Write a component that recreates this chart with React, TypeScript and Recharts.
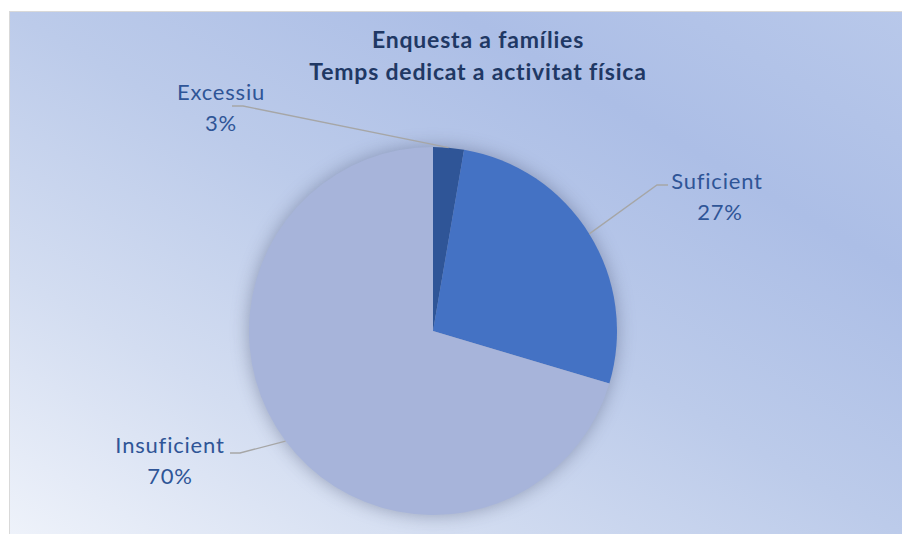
import React from 'react';
import { PieChart, Pie, Cell } from 'recharts';

const categories = ['Excessiu', 'Suficient', 'Insuficient'];
const shares = [2.7, 26.9, 70.4];
const percentLabels = ['3%', '27%', '70%'];
const colors = ['#2F5597', '#4472C4', '#A7B4DA'];

const titleLines = ['Enquesta a famílies', 'Temps dedicat a activitat física'];

const data = categories.map((name, i) => ({ name, value: shares[i], pct: percentLabels[i] }));

// label layout (positions of the text boxes and leader elbows)
const labelLayout = [
  { nameX: 221, nameY: 100, pctX: 221, pctY: 131, endX: 232, elbowX: 243, lineY: 106 },
  { nameX: 717, nameY: 189, pctX: 720, pctY: 220, endX: 668, elbowX: 657, lineY: 185 },
  { nameX: 170, nameY: 453, pctX: 170, pctY: 484, endX: 230, elbowX: 240, lineY: 453 },
];

const RAD = Math.PI / 180;
const FONT = 'Lato, "Open Sans", sans-serif';

const renderLabel = (props: any) => {
  const { cx, cy, midAngle, outerRadius, index } = props;
  const L = labelLayout[index];
  const ax = cx + outerRadius * Math.cos(-midAngle * RAD);
  const ay = cy + outerRadius * Math.sin(-midAngle * RAD);
  return (
    <g key={`lbl-${index}`}>
      <polyline
        points={`${ax},${ay} ${L.elbowX},${L.lineY} ${L.endX},${L.lineY}`}
        fill="none"
        stroke="#A6A6A6"
        strokeWidth={1.3}
      />
      <text x={L.nameX} y={L.nameY} textAnchor="middle" fill="#2F5597" fontSize={22} letterSpacing={0.8} fontFamily={FONT}>
        {data[index].name}
      </text>
      <text x={L.pctX} y={L.pctY} textAnchor="middle" fill="#2F5597" fontSize={22} letterSpacing={0.8} fontFamily={FONT}>
        {data[index].pct}
      </text>
    </g>
  );
};

export default function App() {
  return (
    <div style={{ position: 'absolute', left: 0, top: 0, width: 902, height: 534, background: '#FFFFFF', overflow: 'hidden' }}>
      <style>{`.recharts-pie > g:first-of-type { filter: drop-shadow(0px 0px 9px rgba(70,80,110,0.45)); }`}</style>
      <div
        style={{
          position: 'absolute',
          left: 9,
          top: 11,
          width: 893,
          height: 523,
          borderLeft: '1px solid #D9D9D9',
          borderTop: '1px solid #D9D9D9',
          background:
            'linear-gradient(to top right, #EEF2FA 0%, #D3DDF1 25%, #BCCBEA 50%, #ACBEE6 75%, #B8C8EA 100%)',
        }}
      />
      <div style={{ position: 'absolute', left: 0, top: 0 }}>
        <PieChart width={902} height={534} margin={{ top: 0, right: 0, bottom: 0, left: 0 }}>
          <text x={478} y={48} textAnchor="middle" fill="#203864" fontSize={23} letterSpacing={0.8} fontWeight={700} fontFamily={FONT}>
            {titleLines[0]}
          </text>
          <text x={478} y={80} textAnchor="middle" fill="#203864" fontSize={23} letterSpacing={0.8} fontWeight={700} fontFamily={FONT}>
            {titleLines[1]}
          </text>
          <Pie
            data={data}
            dataKey="value"
            nameKey="name"
            cx={433}
            cy={331}
            outerRadius={184}
            startAngle={90}
            endAngle={-270}
            stroke="none"
            label={renderLabel}
            labelLine={false}
            isAnimationActive={false}
          >
            {data.map((d, i) => (
              <Cell key={d.name} fill={colors[i]} />
            ))}
          </Pie>
        </PieChart>
      </div>
    </div>
  );
}
